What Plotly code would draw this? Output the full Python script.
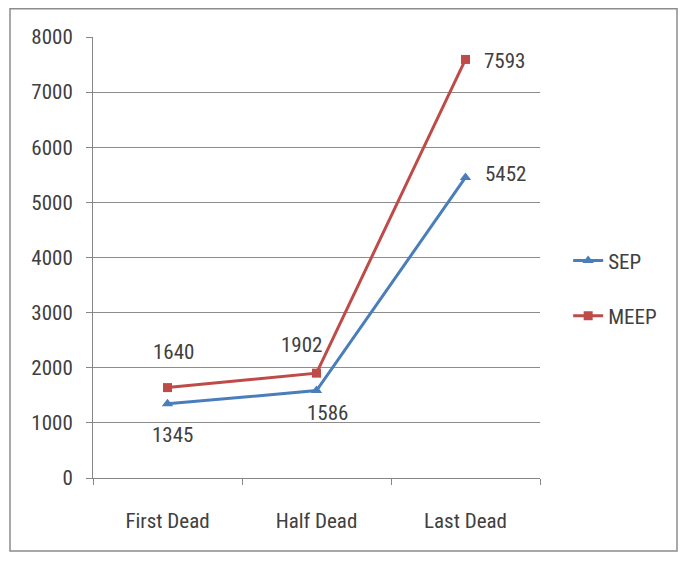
import plotly.graph_objects as go

categories = ["First Dead", "Half Dead", "Last Dead"]
sep_values = [1345, 1586, 5452]
meep_values = [1640, 1902, 7593]
y_ticks = [0, 1000, 2000, 3000, 4000, 5000, 6000, 7000, 8000]

FONT = "Roboto Condensed, Liberation Sans Narrow, Roboto, sans-serif"
BLUE = "#4a7ebb"
RED = "#be4b48"
TEXT = "#404040"

fig = go.Figure()
fig.add_trace(go.Scatter(
    x=categories, y=sep_values, name="SEP", mode="lines+markers",
    line=dict(color=BLUE, width=3),
    marker=dict(symbol="triangle-up", size=10, color=BLUE),
    legendgroup="sep",
))
fig.add_trace(go.Scatter(
    x=categories, y=meep_values, name="MEEP", mode="lines+markers",
    line=dict(color=RED, width=3),
    marker=dict(symbol="square", size=9, color=RED),
    legendgroup="meep",
))

# data labels: (x shift, y shift) per point
sep_offsets = [(5, -31), (11, -22), (40, 3)]
meep_offsets = [(6, 36), (-15, 28), (39, -2)]
for vals, offs in ((sep_values, sep_offsets), (meep_values, meep_offsets)):
    for cat, v, (dx, dy) in zip(categories, vals, offs):
        fig.add_annotation(
            x=cat, y=v, text=str(v), showarrow=False,
            xshift=dx, yshift=dy,
            font=dict(family=FONT, size=21, color=TEXT),
        )

# outer chart border
fig.add_shape(
    type="rect", xref="paper", yref="paper",
    x0=-0.1857, x1=1.3065, y0=-0.1655, y1=1.064,
    line=dict(color="#8c8c8c", width=1.5),
)

# the page body adds an 8px margin, so the figure is sized to fit inside it
fig.update_layout(
    width=670, height=545,
    margin=dict(l=85, r=138, t=29, b=75),
    paper_bgcolor="white", plot_bgcolor="white",
    font=dict(family=FONT, size=21, color=TEXT),
    showlegend=True,
    legend=dict(
        x=1.063, y=0.43, xanchor="left", yanchor="middle",
        traceorder="grouped", tracegroupgap=25,
        font=dict(family=FONT, size=21, color=TEXT),
        itemwidth=30,
    ),
    xaxis=dict(
        range=[-0.5, 2.5],
        showline=True, linecolor="#868686", linewidth=1,
        ticks="outside", tickson="boundaries", ticklen=6, tickcolor="#868686",
        showgrid=False, ticklabelstandoff=24,
    ),
    yaxis=dict(
        range=[0, 8000], tickvals=y_ticks,
        showline=True, linecolor="#868686", linewidth=1,
        ticks="outside", ticklen=6, tickcolor="#868686",
        showgrid=True, gridcolor="#8c8c8c", gridwidth=1,
        zeroline=False, ticklabelstandoff=9,
    ),
)

fig.write_html("out.html")
